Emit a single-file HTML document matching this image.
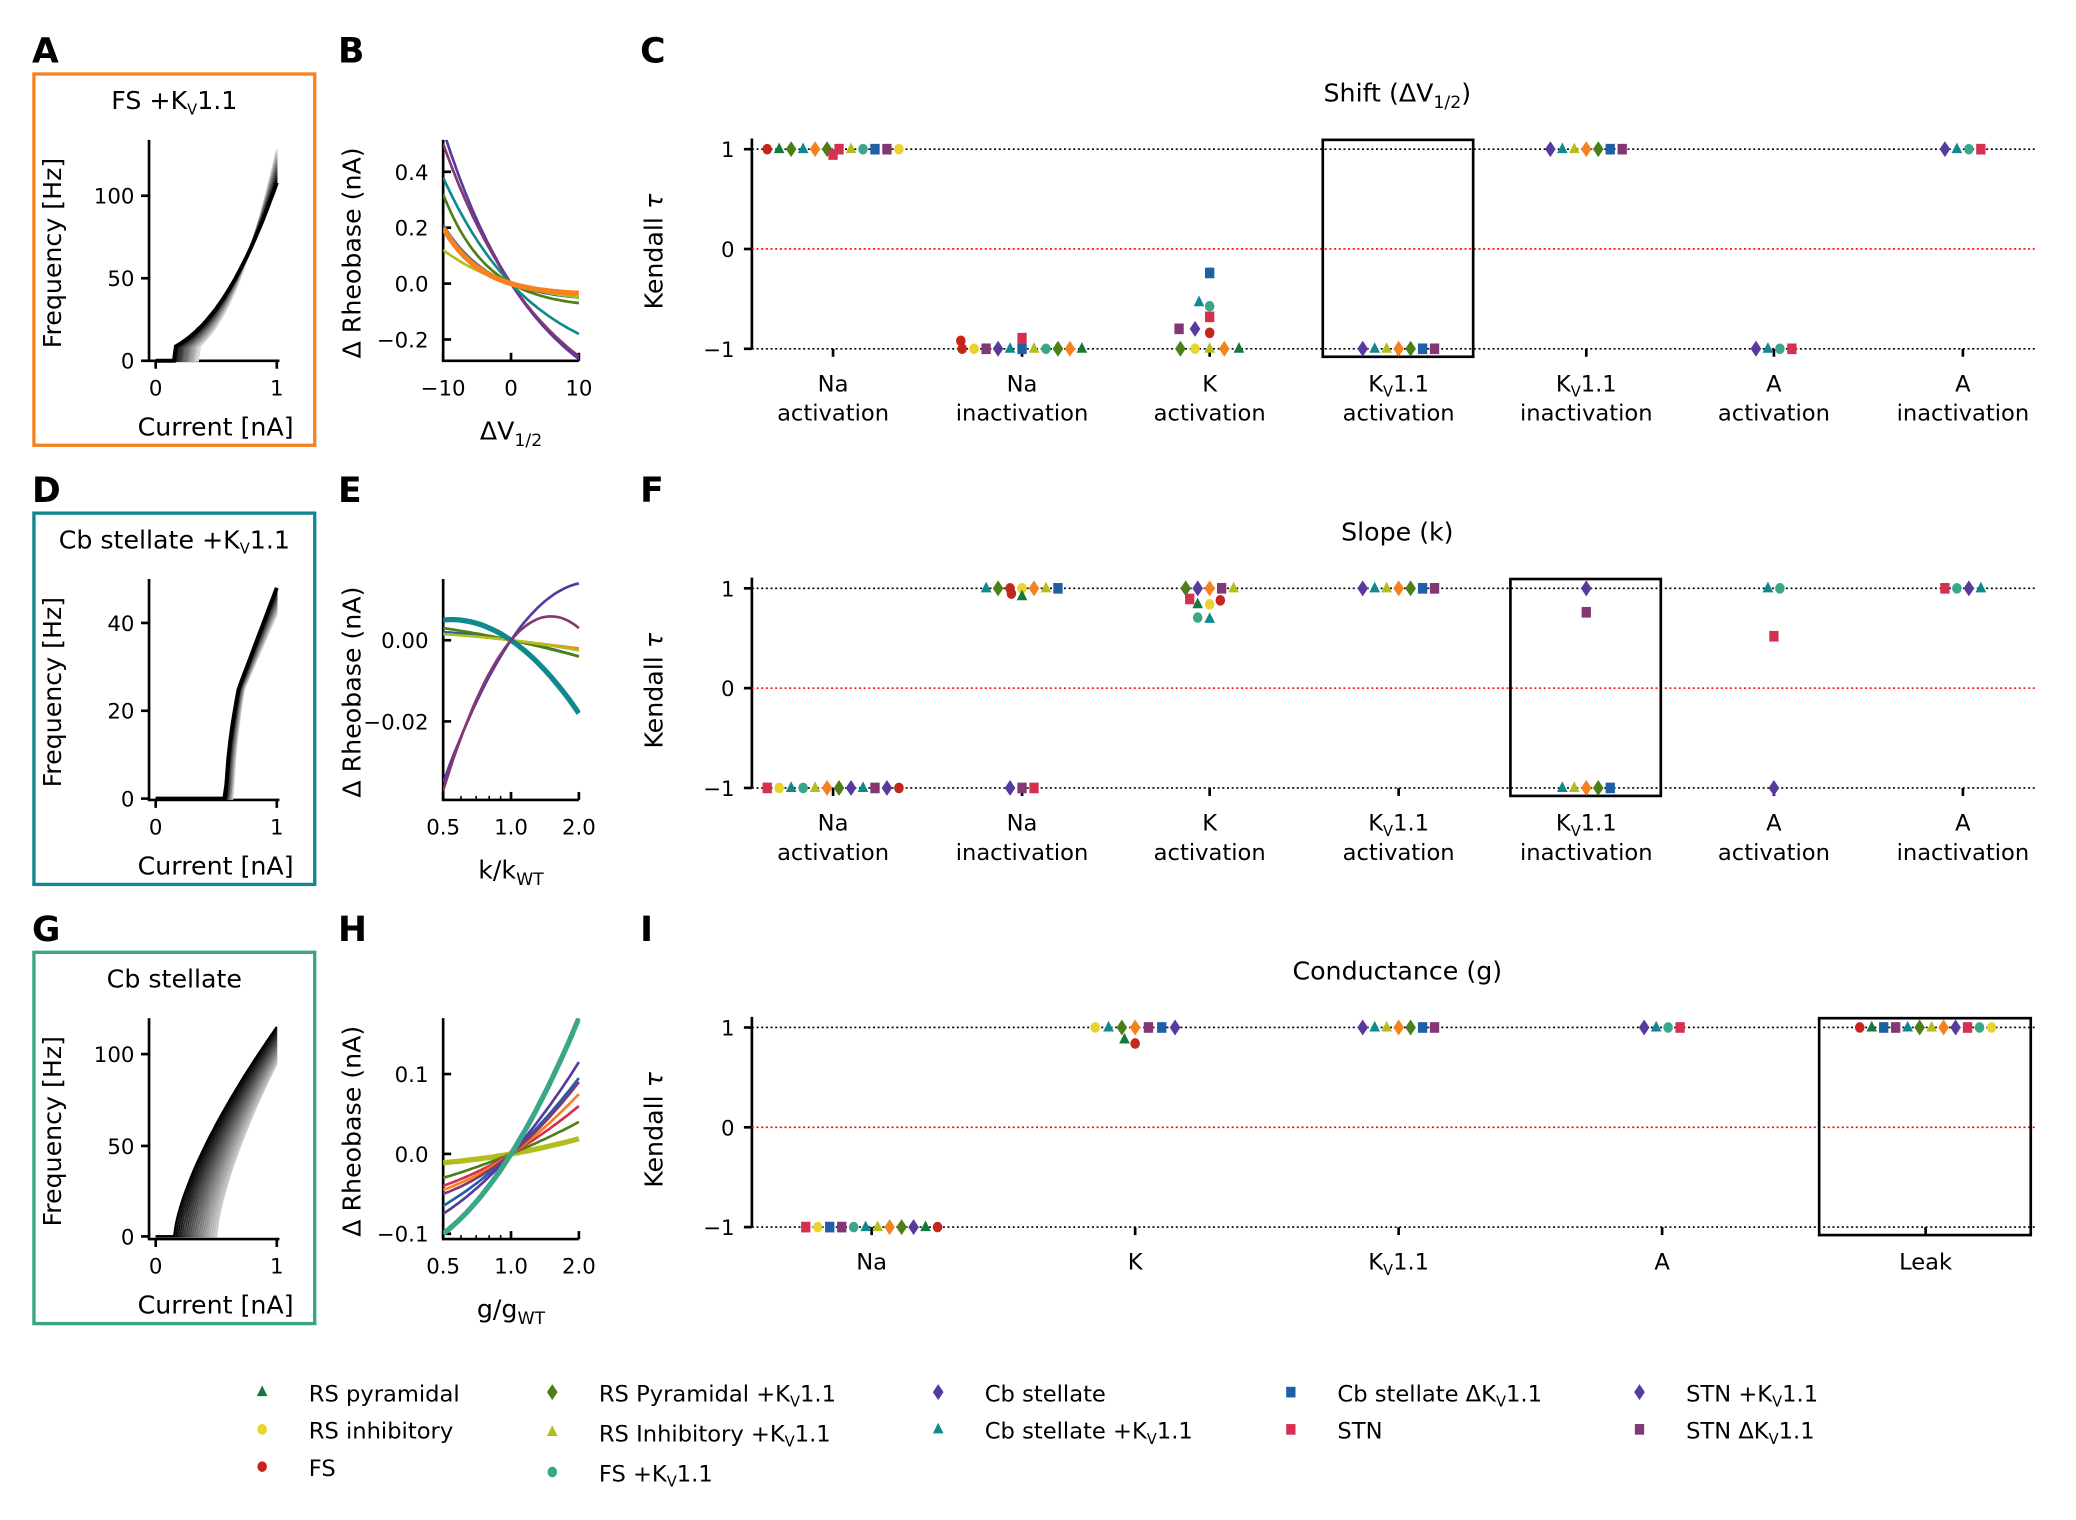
<!DOCTYPE html>
<html><head><meta charset="utf-8"><style>
body{margin:0;background:#fff}
svg{display:block;font-family:"DejaVu Sans","Liberation Sans",sans-serif}
</style></head><body>
<svg id="s" width="2076" height="1520" viewBox="0 0 1560 1142" xmlns="http://www.w3.org/2000/svg"></svg>
<script>
const S=document.getElementById('s');let h='';
const C={a:'#137a3c',b:'#e8d42c',c:'#c4261c',d:'#4d7f18',e:'#b3bd1e',f:'#3aa888',g:'#573a9e',h:'#0f8890',i:'#1f5fa6',j:'#d63050',k:'#573a9e',l:'#823872',o:'#f5821f'};
const T={a:'t',b:'c',c:'c',d:'d',e:'t',f:'c',g:'d',h:'t',i:'s',j:'s',k:'d',l:'s',o:'d'};
function mk(x,y,k){const col=C[k],t=T[k];
 if(t=='t')return `<polygon points="${x},${y-5} ${x-4},${y+3} ${x+4},${y+3}" fill="${col}"/>`;
 if(t=='c')return `<ellipse cx="${x}" cy="${y}" rx="3.6" ry="4" fill="${col}"/>`;
 if(t=='d')return `<polygon points="${x},${y-6} ${x+4},${y} ${x},${y+6} ${x-4},${y}" fill="${col}"/>`;
 return `<rect x="${x-3.5}" y="${y-4}" width="7" height="8" fill="${col}"/>`;}
function row(cx,y,s,sp=9){sp=sp||9;let n=s.length;let o='';for(let q=0;q<n;q++)o+=mk(cx+(q-(n-1)/2)*sp,y,s[q]);return o;}
function txt(x,y,t,sz=16,anc='middle',extra=''){return `<text x="${x}" y="${y}" font-size="${sz}" text-anchor="${anc}" ${extra}>${t}</text>`;}
const KV='K<tspan font-size="11" dy="4">V</tspan><tspan dy="-4">1.1</tspan>';
[['A',24,47],['B',254,47],['C',481,47],['D',24,377],['E',254,377],['F',481,377],['G',24,707],['H',254,707],['I',481,707]].forEach(([l,x,y])=>h+=txt(x,y,l,26,'start','font-weight="bold"'));
const boxes=[['#f5821f','FS +'+KV],['#10868f','Cb stellate +'+KV],['#3aa57e','Cb stellate']];
const ylab=[[[0,271],[50,209],[100,147]],[[0,600],[20,534],[40,468]],[[0,929],[50,861],[100,792]]];
for(let r=0;r<3;r++){const o=r*330;
 h+=`<rect x="25.5" y="${55.5+o}" width="211" height="279" fill="none" stroke="${boxes[r][0]}" stroke-width="2.5"/>`;
 h+=txt(131,82+o,boxes[r][1],19);
 h+=`<path d="M112 ${105+o}V${271+o}H210" fill="none" stroke="#000" stroke-width="2"/>`;
 h+=`<path d="M117 ${271+o}v6M208 ${271+o}v6" stroke="#000" stroke-width="2"/>`;
 h+=txt(117,297+o,'0',16)+txt(208,297+o,'1',16);
 ylab[r].forEach(([v,y])=>{h+=`<path d="M106 ${y}h6" stroke="#000" stroke-width="2"/>`+txt(101,y+6,v,16,'end');});
 h+=txt(162,327+o,'Current [nA]',19);
 h+=txt(0,0,'Frequency [Hz]',19,'middle',`transform="translate(46,${190+o}) rotate(-90)"`);
}
function fi(i0,top,shape,x0,xs,y0,ys,col,w){let p='';for(let q=0;q<=60;q++){let i=q/60;let f=0;if(i>i0){let u=(i-i0)/(1-i0);f=shape(u,top);}p+=(q?'L':'M')+(x0+xs*i).toFixed(1)+' '+(y0-ys*f).toFixed(1);}return `<path d="${p}" fill="none" stroke="${col}" stroke-width="${w}"/>`;}
for(let k=20;k>=0;k--){let g=Math.round(220*k/20);let col=`rgb(${g},${g},${g})`;
 h+=fi(0.15+0.01*k,108+k,(u,t)=>8+ (t-8)*(0.35*u+0.65*Math.pow(u,2.2)),117,91,271,1.24,col,k?1.5:3);
 h+=fi(0.58+0.003*k,48-0.3*k,(u,t)=>u<0.25? 25*Math.pow(u/0.25,0.6):25+(t-25)*(u-0.25)/0.75,117,91,600,3.3,col,k?1.5:3);
}
for(let k=0;k<=20;k++){let g=Math.round(200*(20-k)/20);let col=`rgb(${g},${g},${g})`;
 h+=fi(0.15+0.0175*(20-k),95+k,(u,t)=>t*Math.pow(u,0.7),117,91,929,1.37,col,1.5);}
h+=`<defs><clipPath id="cb"><rect x="333" y="105" width="103" height="166"/></clipPath><clipPath id="ce"><rect x="333" y="435" width="103" height="166"/></clipPath><clipPath id="ch"><rect x="333" y="765" width="103" height="165"/></clipPath></defs>`;
function axB(o,yt,xt,xl){h+=`<path d="M333 ${105+o}V${271+o}H435" fill="none" stroke="#000" stroke-width="2"/>`;
 yt.forEach(([v,y])=>{h+=`<path d="M333 ${y}h6" stroke="#000" stroke-width="2"/>`+txt(322,y+6,v,16,'end');});
 xt.forEach(([v,x])=>{h+=`<path d="M${x} ${271+o}v-6" stroke="#000" stroke-width="2"/>`+txt(x,297+o,v,16);});
 h+=txt(384,330+o,xl,19);h+=txt(0,0,'Δ Rheobase (nA)',19,'middle',`transform="translate(271,${190+o}) rotate(-90)"`);}
axB(0,[['0.4',129],['0.2',171],['0.0',213],['−0.2',255]],[['−10',333],['0',384],['10',435]],'ΔV<tspan font-size="13" dy="5">1/2</tspan>');
[['#573a9e',.55,.27,2],['#823872',.5,.26,2],['#0f8890',.38,.18,2],['#4d7f18',.32,.07,2],['#1f5fa6',.21,.05,2],['#b3bd1e',.12,.05,2],['#f5821f',.2,.035,4]].forEach(([c,Tp,B,w])=>{let u=Tp/B,A=Tp/(u-1),k=Math.log(u)/10;let p='';for(let q=0;q<=50;q++){let d=-10+q*0.4;let r=A*(Math.exp(-k*d)-1);p+=(q?'L':'M')+(384+5.1*d).toFixed(1)+' '+(213-210*r).toFixed(1);}h+=`<path d="${p}" fill="none" stroke="${c}" stroke-width="${w}" clip-path="url(#cb)"/>`;});
axB(330,[['0.00',481],['−0.02',542]],[['0.5',333],['1.0',384],['2.0',435]],'k/k<tspan font-size="13" dy="5">WT</tspan>');
function logminor(o){[0.6,0.7,0.8,0.9].forEach(v=>{let x=384+51*Math.log2(v);h+=`<path d="M${x.toFixed(1)} ${271+o}v-3" stroke="#000" stroke-width="1.2"/>`;});}
logminor(330);logminor(660);
function quad(list,y0,ys,clip){list.forEach(([c,a,b,w])=>{let p='';for(let q=0;q<=40;q++){let t=-1+q/20;let r=a*t+b*t*t;p+=(q?'L':'M')+(384+51*t).toFixed(1)+' '+(y0-ys*r).toFixed(1);}h+=`<path d="${p}" fill="none" stroke="${c}" stroke-width="${w}" clip-path="url(#${clip})"/>`;});}
quad([['#f5821f',-0.002,0,2],['#1f5fa6',-0.003,-0.001,2],['#4d7f18',-0.0035,-0.0005,2],['#b3bd1e',-0.002,-0.0005,2],['#0f8890',-0.0115,-0.0065,4],['#573a9e',0.0245,-0.0105,2],['#823872',0.02,-0.017,2]],481,3050,'ce');
axB(660,[['0.1',807],['0.0',867],['−0.1',927]],[['0.5',333],['1.0',384],['2.0',435]],'g/g<tspan font-size="13" dy="5">WT</tspan>');
quad([['#b3bd1e',0.015,0.004,4],['#4d7f18',0.035,0.005,2],['#d63050',0.05,0.01,2],['#f5821f',0.06,0.015,2],['#1f5fa6',0.08,0.015,2],['#573a9e',0.095,0.02,2],['#823872',0.07,0.02,2],['#3aa888',0.135,0.035,4]],867,600,'ch');
function rp(o,title,cats,bx){const y1=112+o,y0=187+o,ym=262+o;
 h+=txt(1050,76+o,title,19);
 h+=`<path d="M565 ${y1-8}V${ym}" stroke="#000" stroke-width="2"/>`;
 [[1,y1],[0,y0],['−1',ym]].forEach(([v,y])=>{h+=`<path d="M559 ${y}h6" stroke="#000" stroke-width="2"/>`+txt(552,y+6,v,16,'end');});
 h+=`<path d="M565 ${y1}H1530M565 ${ym}H1530" stroke="#000" stroke-width="1.2" stroke-dasharray="1.5,2"/>`;
 h+=`<path d="M565 ${y0}H1530" stroke="#f00" stroke-width="1.2" stroke-dasharray="1.5,2"/>`;
 h+=txt(0,0,'Kendall <tspan font-style="italic">τ</tspan>',19,'middle',`transform="translate(498,${189+o}) rotate(-90)"`);
 cats.forEach(([x,l1,l2])=>{h+=`<path d="M${x} ${ym}v6" stroke="#000" stroke-width="2"/>`;h+=txt(x,294+o,l1,17);if(l2)h+=txt(x,316+o,l2,17);});
 h+=`<rect x="${bx[0]}" y="${105+o}" width="${bx[1]-bx[0]}" height="${163+(bx[2]||0)}" fill="none" stroke="#000" stroke-width="2"/>`;
 return [y1,ym];}
const cx7=[626,768,909,1051,1192,1333,1475];
const lab7=[['Na','activation'],['Na','inactivation'],['K','activation'],[KV,'activation'],[KV,'inactivation'],['A','activation'],['A','inactivation']];
let [a1,am]=rp(0,'Shift (ΔV<tspan font-size="13" dy="5">1/2</tspan><tspan dy="-5">)</tspan>',cx7.map((x,i)=>[x,...lab7[i]]),[994,1107]);
h+=row(626,a1,'cadhodjefilb');h+=mk(626,a1+4,'j');
h+=row(768,am,'cblghiefdoa');h+=mk(768,am-8,'j');h+=mk(722,am-6,'c');
h+=row(909,am,'dbeoa',11);h+=mk(909,am-12,'c');h+=mk(898,am-15,'g');h+=mk(886,am-15,'l');h+=mk(909,am-24,'j');h+=mk(901,am-35,'h');h+=mk(909,am-32,'f');h+=mk(909,am-57,'i');
h+=row(1051,am,'gheodil');h+=row(1192,a1,'gheodil');h+=row(1333,am,'ghfj');h+=row(1475,a1,'ghfj');
let [f1,fm]=rp(330,'Slope (k)',cx7.map((x,i)=>[x,...lab7[i]]),[1135,1248]);
h+=row(626,fm,'jbhfeodghlgc');
h+=row(768,f1,'hdcboei');h+=mk(768,f1+6,'a');h+=mk(760,f1+4,'c');
h+=row(768,fm,'glj');
h+=row(909,f1,'dgole');h+=mk(894,f1+8,'j');h+=mk(900,f1+12,'a');h+=mk(909,f1+12,'b');h+=mk(917,f1+9,'c');h+=mk(900,f1+22,'f');h+=mk(909,f1+23,'h');
h+=row(1051,f1,'gheodil');h+=mk(1192,f1,'g');h+=mk(1192,f1+18,'l');h+=row(1192,fm,'heodi');
h+=row(1333,f1,'hf');h+=mk(1333,f1+36,'j');h+=mk(1333,fm,'g');h+=row(1475,f1,'jfgh');
const cx5=[[655,'Na'],[853,'K'],[1051,KV],[1249,'A'],[1447,'Leak']];
let [i1,im]=rp(660,'Conductance (g)',cx5.map(([x,l])=>[x,l,null]),[1367,1526]);
h+=row(655,im,'jbilfheodgac');
h+=row(853,i1,'bhdolig',10);h+=mk(845,i1+9,'a');h+=mk(853,i1+12,'c');
h+=row(1051,i1,'gheodil');h+=row(1249,i1,'ghfj');h+=row(1447,i1,'cailhdeogjfb');
const L=[[197,1047,'a','RS pyramidal'],[197,1075,'b','RS inhibitory'],[197,1103,'c','FS'],
[415,1047,'d','RS Pyramidal +'+KV],[415,1077,'e','RS Inhibitory +'+KV],[415,1107,'f','FS +'+KV],
[705,1047,'g','Cb stellate'],[705,1075,'h','Cb stellate +'+KV],
[970,1047,'i','Cb stellate ΔK<tspan font-size="11" dy="4">V</tspan><tspan dy="-4">1.1</tspan>'],[970,1075,'j','STN'],
[1232,1047,'k','STN +'+KV],[1232,1075,'l','STN ΔK<tspan font-size="11" dy="4">V</tspan><tspan dy="-4">1.1</tspan>']];
L.forEach(([x,y,k,t])=>{h+=mk(x,y-1,k);h+=txt(x+35,y+6,t,17,'start');});
S.innerHTML=h;
</script>
</body></html>
